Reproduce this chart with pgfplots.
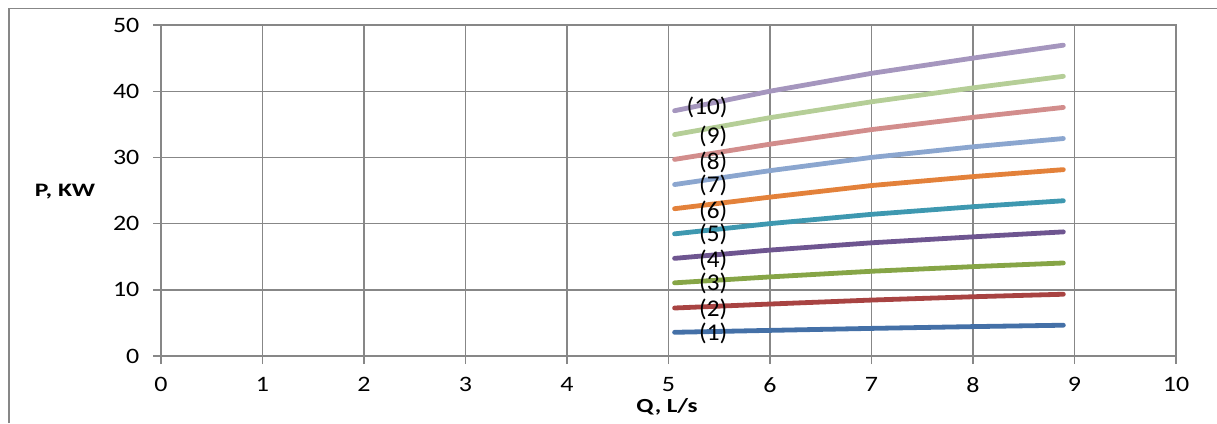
\documentclass[border=0pt]{standalone}
\usepackage{pgfplots}
\pgfplotsset{compat=1.18}
\usepackage{fontspec}
\setmainfont{Carlito}

\definecolor{gridgray}{HTML}{878787}
\definecolor{cA}{HTML}{4470A7}
\definecolor{cB}{HTML}{A84342}
\definecolor{cC}{HTML}{86A546}
\definecolor{cD}{HTML}{6E5590}
\definecolor{cE}{HTML}{3E98B0}
\definecolor{cF}{HTML}{E3813A}
\definecolor{cG}{HTML}{8BA6CF}
\definecolor{cH}{HTML}{D28D8C}
\definecolor{cI}{HTML}{B5CE97}
\definecolor{cJ}{HTML}{A596BE}

\begin{document}
\begin{tikzpicture}[x=1pt,y=1pt]
    \path[use as bounding box] (0,0) rectangle (1217,423);
    % chart frame (only top and left edges are in the shot)
    \draw[gridgray, line width=1.5pt] (9,0) -- (9,414.5) -- (1217,414.5);

    \begin{axis}[
        at={(161pt,67pt)},
        anchor=south west,
        scale only axis,
        width=1015pt,
        height=331pt,
        xmin=0, xmax=10,
        ymin=0, ymax=50,
        xtick={0,1,...,10},
        ytick={0,10,...,50},
        grid=major,
        major grid style={gridgray, line width=1.4pt},
        axis line style={gridgray, line width=1.4pt},
        tick style={gridgray, line width=1.4pt},
        tick align=outside,
        major tick length=8pt,
        xtick pos=left,
        ytick pos=left,
        /pgf/number format/assume math mode=true,
        ticklabel style={font=\fontsize{22}{22}\selectfont, text=black, xscale=1.18},
        xticklabel style={yshift=-10pt},
        yticklabel style={xshift=-8pt},
        every axis plot/.append style={line width=4.8pt, line cap=round, no markers},
        clip=false,
    ]

    \addplot[cA] coordinates {(5.06,3.58) (6,3.87) (7,4.17) (8,4.44) (8.89,4.65)};
    \addplot[cB] coordinates {(5.06,7.25) (6,7.85) (7,8.45) (8,8.95) (8.89,9.33)};
    \addplot[cC] coordinates {(5.06,11.05) (6,11.95) (7,12.8) (8,13.5) (8.89,14.05)};
    \addplot[cD] coordinates {(5.06,14.75) (6,16.0) (7,17.1) (8,18.0) (8.89,18.75)};
    \addplot[cE] coordinates {(5.06,18.45) (6,20.0) (7,21.4) (8,22.55) (8.89,23.45)};
    \addplot[cF] coordinates {(5.06,22.25) (6,24.0) (7,25.75) (8,27.1) (8.89,28.15)};
    \addplot[cG] coordinates {(5.06,25.9) (6,28.0) (7,30.0) (8,31.6) (8.89,32.85)};
    \addplot[cH] coordinates {(5.06,29.7) (6,32.0) (7,34.2) (8,36.05) (8.89,37.55)};
    \addplot[cI] coordinates {(5.06,33.45) (6,36.0) (7,38.4) (8,40.5) (8.89,42.25)};
    \addplot[cJ] coordinates {(5.06,37.05) (6,40.0) (7,42.7) (8,45.0) (8.89,46.95)};

    \begin{scope}[every node/.style={font=\fontsize{24}{24}\selectfont, inner sep=0pt, xscale=1.05}]
        \node at (axis cs:5.44,3.47) {(1)};
        \node at (axis cs:5.44,7.1) {(2)};
        \node at (axis cs:5.44,10.9) {(3)};
        \node at (axis cs:5.44,14.5) {(4)};
        \node at (axis cs:5.44,18.3) {(5)};
        \node at (axis cs:5.44,21.9) {(6)};
        \node at (axis cs:5.44,25.7) {(7)};
        \node at (axis cs:5.44,29.3) {(8)};
        \node at (axis cs:5.44,33.1) {(9)};
        \node at (axis cs:5.38,37.6) {(10)};
    \end{scope}
    \end{axis}

    \node[font=\bfseries\fontsize{19}{19}\selectfont, xscale=1.35] at (65,231) {P, KW};
    \node[font=\bfseries\fontsize{20}{20}\selectfont, xscale=1.25] at (667,16) {Q, L/s};
\end{tikzpicture}
\end{document}
